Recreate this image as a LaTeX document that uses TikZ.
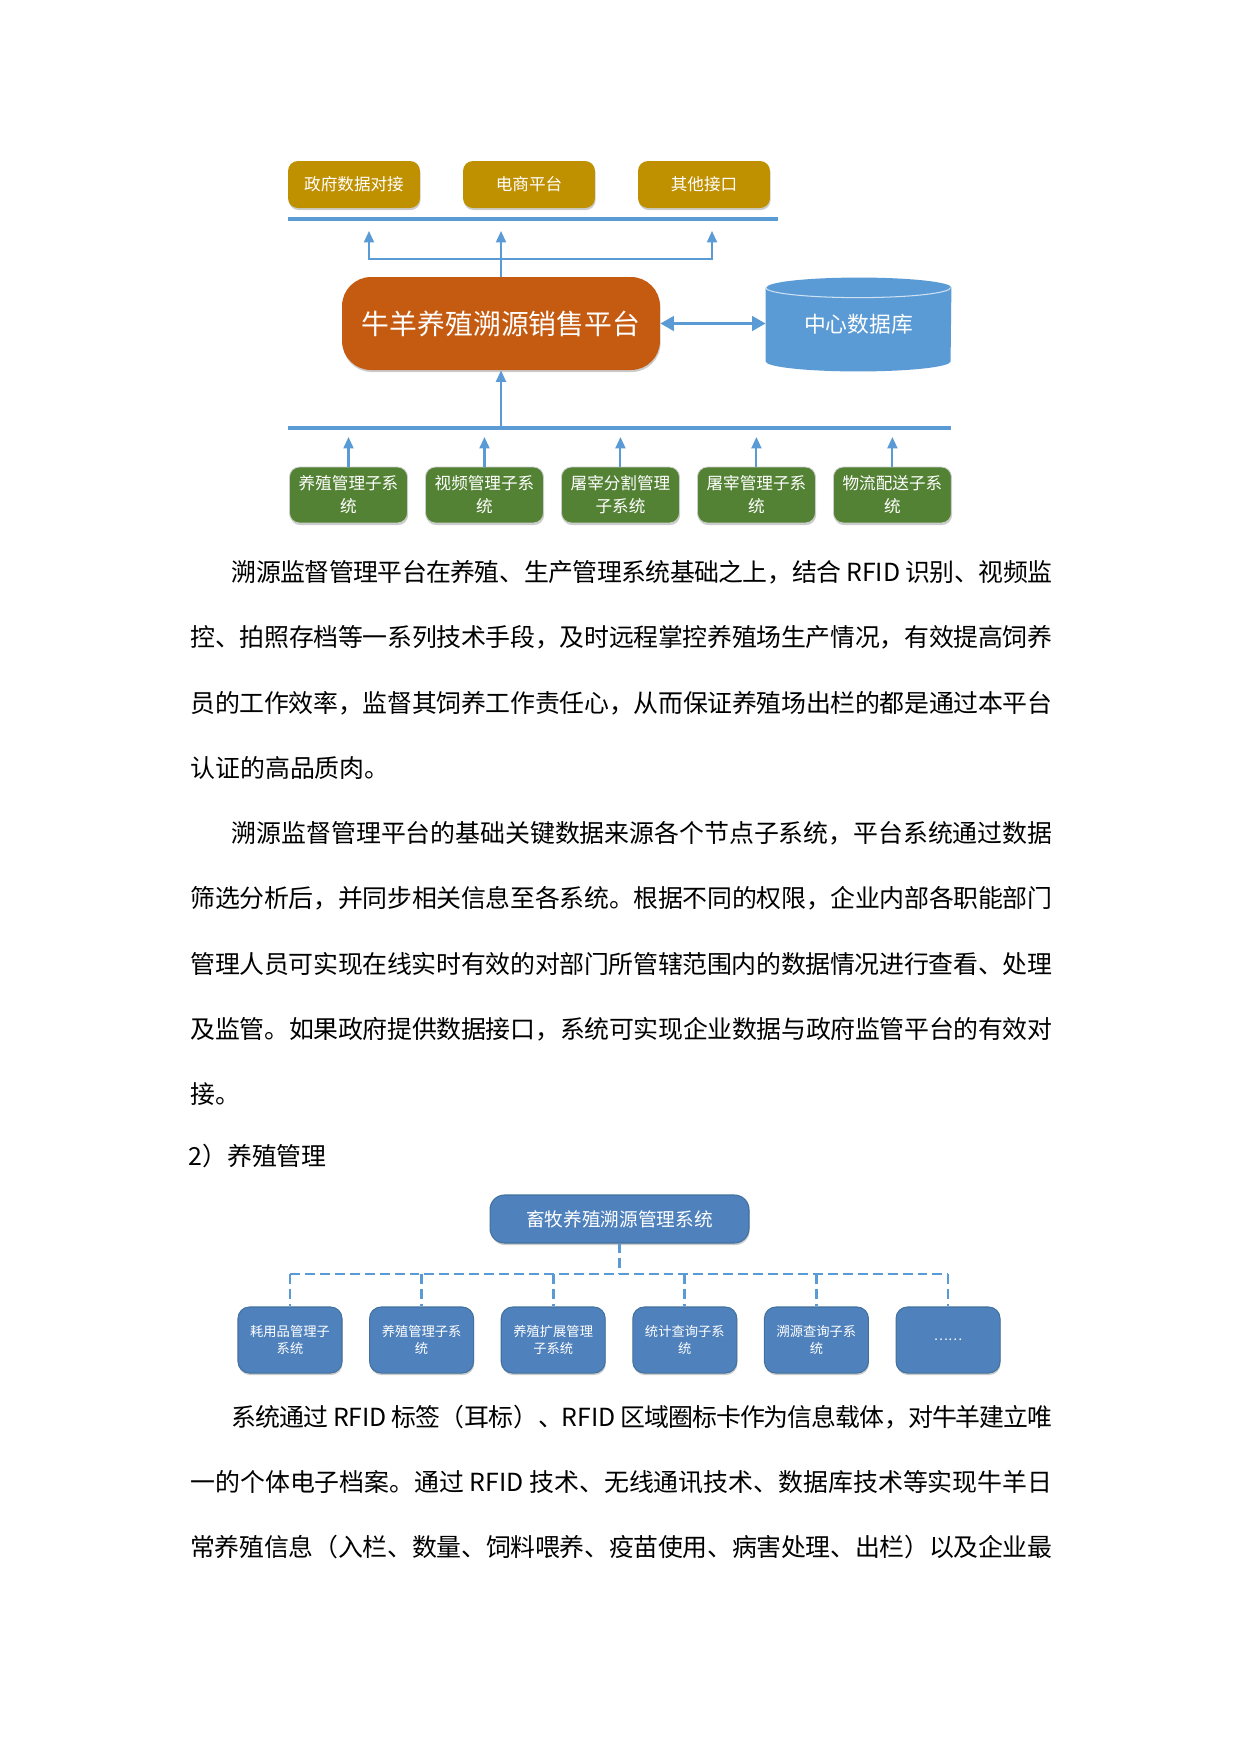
\documentclass[tikz,border=0pt]{standalone}
\usepackage{fontspec}
\setmainfont{Noto Sans CJK SC}
\usetikzlibrary{shapes,arrows.meta,positioning,shadows}
\XeTeXlinebreaklocale "zh"
\XeTeXlinebreakskip=0pt plus 2pt minus 1pt

\definecolor{portgold}{HTML}{BF9000}
\definecolor{platorange}{HTML}{C55A11}
\definecolor{dbblue}{HTML}{5B9BD5}
\definecolor{linkblue}{HTML}{5B9BD5}
\definecolor{subgreen}{HTML}{548235}
\definecolor{sysblue}{HTML}{4F81BD}
\definecolor{sysedge}{HTML}{41719C}

\tikzstyle{softshadow} = [drop shadow={shadow xshift=0.3pt, shadow yshift=-1pt, opacity=0.2, fill=black}]
\tikzstyle{port} = [rectangle, rounded corners=4.8pt, minimum width=2.235cm, minimum height=0.796cm, inner sep=0pt, fill=portgold, text=white, font=\fontsize{8pt}{10pt}\selectfont, softshadow]
\tikzstyle{platform} = [rectangle, rounded corners=14pt, minimum width=5.385cm, minimum height=1.575cm, inner sep=0pt, fill=platorange, text=white, font=\fontsize{13.4pt}{16pt}\selectfont, softshadow]
\tikzstyle{dbbody} = [rectangle, minimum width=3.133cm, minimum height=1.236cm, inner sep=0pt]
\tikzstyle{dbtext} = [inner sep=0pt, text=white, font=\fontsize{10.5pt}{12pt}\selectfont]
\tikzstyle{subsys} = [rectangle, rounded corners=4.8pt, minimum width=1.998cm, minimum height=0.948cm, inner sep=0pt, fill=subgreen, draw=white!80!black, line width=0.4pt, text=white, align=center, font=\fontsize{8pt}{11pt}\selectfont, softshadow]
\tikzstyle{rootsys} = [rectangle, rounded corners=7pt, minimum width=4.386cm, minimum height=0.813cm, inner sep=0pt, fill=sysblue, draw=sysedge, line width=0.5pt, text=white, font=\fontsize{9pt}{11pt}\selectfont, softshadow]
\tikzstyle{leafsys} = [rectangle, rounded corners=5.5pt, minimum width=1.761cm, minimum height=1.118cm, inner sep=0pt, fill=sysblue, draw=sysedge, line width=0.5pt, text=white, align=center, font=\fontsize{6.4pt}{8.2pt}\selectfont, softshadow]
\tikzstyle{bus} = [draw=linkblue, line width=2.4pt]
\tikzstyle{arrow} = [draw=linkblue, line width=1pt, -{Triangle[width=4.8pt,length=5.5pt]}]
\tikzstyle{twoway} = [draw=linkblue, line width=1pt, {Triangle[width=4.8pt,length=5.5pt]}-{Triangle[width=4.8pt,length=5.5pt]}]
\tikzstyle{dblarrow} = [draw=linkblue, line width=1.3pt, {Triangle[width=7pt,length=6.5pt]}-{Triangle[width=7pt,length=6.5pt]}]
\tikzstyle{tree} = [draw=linkblue, line width=1.4pt, dash pattern=on 4.8pt off 2.4pt]
\tikzstyle{para} = [anchor=base west, inner sep=0pt, text width=14.6cm, align=justify, font=\fontsize{12pt}{31.45pt}\selectfont]

\begin{document}
\begin{tikzpicture}[x=0.016935cm, y=-0.016935cm]

\path [fill=white] (0,0) rectangle (1240,1754);

% interfaces on top
\begin{scope}[node distance=2.964cm]
\node (gov) [port] at (354,184.5) {政府数据对接};
\node (shop) [port, right of=gov] {电商平台};
\node (other) [port, right of=shop] {其他接口};
\end{scope}

\coordinate (upL) at (288,219);
\coordinate (upR) at (778,219);
\draw [bus] (upL) -- (upR);

% platform and database
\node (main) [platform] at (501,323.5) {牛羊养殖溯源销售平台};
\node (db) [dbbody] at (858.5,324.5) {};
\fill [dbblue] (db.north west) -- (db.south west)
  arc[start angle=180, end angle=360, x radius=1.5665cm, y radius=0.17cm]
  -- (db.north east)
  arc[start angle=0, end angle=180, x radius=1.5665cm, y radius=0.17cm] -- cycle;
\draw [white!70!dbblue, line width=0.5pt] (db.north west)
  arc[start angle=180, end angle=360, x radius=1.5665cm, y radius=0.17cm];
\node (dblabel) [dbtext] at (db) {中心数据库};

\coordinate (tipL) at (369,231);
\coordinate (tipR) at (712,231);
\coordinate (fanL) at (369,259);
\coordinate (fanR) at (712,259);
\draw [arrow] (main.north) -- (main.north |- tipL);
\draw [twoway] (tipL) -- (fanL) -- (fanR) -- (tipR);
\draw [dblarrow] (main.east) -- (main.east -| db.west);

\coordinate (lowL) at (288,428);
\coordinate (lowR) at (951,428);
\draw [bus] (lowL) -- (lowR);
\draw [arrow] (main.north |- lowL) -- (main.south);

% subsystems
\begin{scope}[node distance=2.303cm]
\node (breed) [subsys] at (348.5,495) {养殖管理子系\\统};
\node (video) [subsys, right of=breed] {视频管理子系\\统};
\node (cut) [subsys, right of=video] {屠宰分割管理\\子系统};
\node (slaughter) [subsys, right of=cut] {屠宰管理子系\\统};
\node (logistics) [subsys, right of=slaughter] {物流配送子系\\统};
\end{scope}

\coordinate (subtip) at (0,437);
\foreach \s in {breed,video,cut,slaughter,logistics}
  \draw [arrow] (\s.north) -- (\s.north |- subtip);

% text
\node (parOne) [para] at (190,581.5) {\hspace*{20pt}溯源监督管理平台在养殖、生产管理系统基础之上，结合 RFID 识别、视频监\linebreak
控、拍照存档等一系列技术手段，及时远程掌控养殖场生产情况，有效提高饲养\linebreak
员的工作效率，监督其饲养工作责任心，从而保证养殖场出栏的都是通过本平台\linebreak
认证的高品质肉。};

\node (parTwo) [para] at (190,842.5) {\hspace*{20pt}溯源监督管理平台的基础关键数据来源各个节点子系统，平台系统通过数据\linebreak
筛选分析后，并同步相关信息至各系统。根据不同的权限，企业内部各职能部门\linebreak
管理人员可实现在线实时有效的对部门所管辖范围内的数据情况进行查看、处理\linebreak
及监管。如果政府提供数据接口，系统可实现企业数据与政府监管平台的有效对\linebreak
接。};

\node (secTwo) [para] at (188,1165.5) {2）养殖管理};

% breeding management tree
\node (herd) [rootsys] at (619.5,1219) {畜牧养殖溯源管理系统};
\begin{scope}[node distance=2.229cm]
\node (supply) [leafsys] at (290,1340) {耗用品管理子\\系统};
\node (raise) [leafsys, right of=supply] {养殖管理子系\\统};
\node (extend) [leafsys, right of=raise] {养殖扩展管理\\子系统};
\node (stats) [leafsys, right of=extend] {统计查询子系\\统};
\node (trace) [leafsys, right of=stats] {溯源查询子系\\统};
\node (more) [leafsys, right of=trace] {……};
\end{scope}

\coordinate (fork) at (620,1274);
\draw [tree] (herd.south) -- (herd.south |- fork);
\draw [tree] (supply.north |- fork) -- (more.north |- fork);
\foreach \s in {supply,raise,extend,stats,trace,more}
  \draw [tree] (\s.north |- fork) -- (\s.north);

\node (parThree) [para] at (190,1426) {\parfillskip=0pt \hspace*{20pt}系统通过 RFID 标签（耳标）、RFID 区域圈标卡作为信息载体，对牛羊建立唯\linebreak
一的个体电子档案。通过 RFID 技术、无线通讯技术、数据库技术等实现牛羊日\linebreak
常养殖信息（入栏、数量、饲料喂养、疫苗使用、病害处理、出栏）以及企业最};

\end{tikzpicture}
\end{document}
